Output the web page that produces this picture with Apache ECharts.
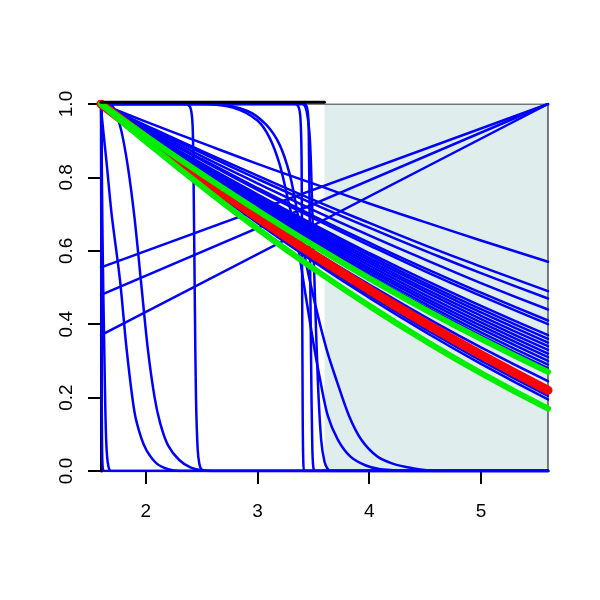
<!DOCTYPE html>
<html>
<head>
<meta charset="utf-8">
<script src="https://cdn.jsdelivr.net/npm/echarts@6/dist/echarts.min.js"></script>
<style>html,body{margin:0;padding:0;background:#fff}#c{width:600px;height:600px}</style>
</head>
<body>
<div id="c"></div>
<script>
// ---- data ----
const xTicks = [2, 3, 4, 5];
const shadeX = [3.6, 5.6];
const declineX = [1.6, 2.0, 2.5, 3.0, 3.5, 4.0, 4.5, 5.0, 5.6];
const b57 = [1, 0.952, 0.894, 0.837, 0.783, 0.729, 0.678, 0.628, 0.57];
const b49 = [1, 0.942, 0.872, 0.805, 0.739, 0.676, 0.615, 0.557, 0.49];
const b47 = [1, 0.940, 0.867, 0.796, 0.728, 0.663, 0.600, 0.539, 0.47];
const b44 = [1, 0.936, 0.858, 0.784, 0.711, 0.642, 0.576, 0.512, 0.44];
const b41 = [1, 0.932, 0.850, 0.771, 0.695, 0.622, 0.552, 0.486, 0.41];
const b40 = [1, 0.931, 0.847, 0.766, 0.689, 0.615, 0.544, 0.477, 0.40];
const b37 = [1, 0.927, 0.838, 0.754, 0.672, 0.594, 0.520, 0.450, 0.37];
const b36 = [1, 0.925, 0.835, 0.749, 0.667, 0.588, 0.512, 0.441, 0.36];
const b35 = [1, 0.924, 0.833, 0.745, 0.661, 0.581, 0.505, 0.432, 0.35];
const b34 = [1, 0.923, 0.830, 0.740, 0.655, 0.574, 0.496, 0.423, 0.34];
const b33 = [1, 0.921, 0.827, 0.736, 0.650, 0.567, 0.489, 0.414, 0.33];
const b32 = [1, 0.920, 0.824, 0.732, 0.644, 0.560, 0.480, 0.405, 0.32];
const b31 = [1, 0.919, 0.821, 0.727, 0.638, 0.553, 0.472, 0.396, 0.31];
const b30 = [1, 0.917, 0.818, 0.723, 0.632, 0.546, 0.464, 0.387, 0.30];
const b29 = [1, 0.916, 0.815, 0.718, 0.627, 0.539, 0.456, 0.378, 0.29];
const b28 = [1, 0.915, 0.812, 0.714, 0.621, 0.532, 0.448, 0.369, 0.28];
const b245 = [1, 0.910, 0.802, 0.698, 0.600, 0.508, 0.420, 0.337, 0.245];
const b205 = [1, 0.904, 0.789, 0.680, 0.577, 0.479, 0.387, 0.301, 0.205];
const b195 = [1, 0.903, 0.786, 0.676, 0.571, 0.472, 0.379, 0.292, 0.195];
const greenUpper = [1, 0.913, 0.809, 0.710, 0.615, 0.525, 0.440, 0.360, 0.27];
const redCurve = [1, 0.908, 0.797, 0.691, 0.590, 0.494, 0.403, 0.317, 0.22];
const greenLower = [1, 0.898, 0.776, 0.660, 0.552, 0.450, 0.355, 0.267, 0.17];

const riseA = [[1.6, 0.555], [5.6, 1]];
const riseB = [[1.6, 0.48], [5.6, 1]];
const riseC = [[1.6, 0.37], [5.6, 1]];

const dropS0 = [[1.6,1],[1.602,0.7],[1.605,0.3],[1.609,0.08],[1.615,0.01],[1.63,0],[5.6,0]];
const dropS1 = [[1.6,1],[1.605,0.9],[1.612,0.68],[1.62,0.5],[1.63,0.32],[1.64,0.15],[1.65,0.06],[1.665,0.015],[1.69,0],[5.6,0]];
const dropS2 = [[1.6,1],[1.606,0.97],[1.65,0.84],[1.695,0.70],[1.77,0.52],[1.83,0.33],[1.9,0.16],[1.96,0.09],[2.01,0.055],[2.1,0.02],[2.2,0.005],[2.3,0],[5.6,0]];
const dropS3 = [[1.6,1],[1.68,0.998],[1.72,0.985],[1.78,0.93],[1.84,0.83],[1.9,0.69],[1.96,0.51],[2.02,0.33],[2.08,0.2],[2.13,0.13],[2.2,0.07],[2.3,0.03],[2.4,0.01],[2.5,0.002],[2.6,0],[5.6,0]];
const dropV1 = [[1.6,1],[2.36,1],[2.4,0.99],[2.42,0.94],[2.43,0.75],[2.44,0.45],[2.45,0.2],[2.465,0.06],[2.48,0.02],[2.5,0.004],[2.55,0],[5.6,0]];
const dropP = [[1.6,1],[2.5,1],[2.78,0.99],[3.0,0.955],[3.11,0.907],[3.2,0.834],[3.27,0.744],[3.35,0.635],[3.42,0.5],[3.5,0.35],[3.56,0.25],[3.63,0.15],[3.72,0.085],[3.83,0.04],[3.97,0.015],[4.1,0.005],[4.4,0],[5.6,0]];
const dropQ = [[1.6,1],[2.6,1],[2.91,0.981],[3.08,0.943],[3.2,0.888],[3.29,0.807],[3.35,0.717],[3.42,0.589],[3.52,0.45],[3.62,0.33],[3.71,0.245],[3.82,0.15],[3.93,0.085],[4.07,0.04],[4.21,0.02],[4.38,0.008],[4.6,0],[5.6,0]];
const dropT1 = [[1.6,1],[3.34,1],[3.37,0.99],[3.385,0.96],[3.395,0.85],[3.40,0.5],[3.405,0.15],[3.41,0.03],[3.42,0],[5.6,0]];
const dropT2 = [[1.6,1],[3.42,1],[3.45,0.98],[3.46,0.9],[3.47,0.6],[3.48,0.3],[3.49,0.08],[3.5,0.01],[3.52,0],[5.6,0]];
const dropR = [[1.6,1],[3.40,1],[3.44,0.98],[3.47,0.9],[3.49,0.72],[3.51,0.52],[3.54,0.25],[3.57,0.085],[3.6,0.025],[3.63,0.005],[3.66,0],[5.6,0]];

const frameTopThick = [[1.6, 1.005], [3.6, 1.005]];
const frameTopThin = [[1.6, 1], [5.6, 1]];
const frameRight = [[5.6, 0], [5.6, 1]];

// ---- build ----
const BLUE = '#0000ff';
const zip = (xs, ys) => xs.map((x, i) => [x, ys[i]]);
function line(data, color, width, z, smooth, noClip) {
  return {
    type: 'line', data: data, symbol: 'none', showSymbol: false,
    smooth: smooth || false, clip: !noClip,
    lineStyle: { color: color, width: width, cap: 'round', join: 'round' }, itemStyle: { color: color },
    z: z, silent: true, animation: false
  };
}
const blueDeclines = [b57, b49, b47, b44, b41, b40, b37, b36, b35, b34, b33, b32, b31, b30, b29, b28, b245, b205, b195];
const blueDrops = [dropS0, dropS1, dropS2, dropS3, dropV1, dropP, dropQ, dropT1, dropT2, dropR];

const series = [];
series.push({
  type: 'line', data: [], z: 1, silent: true, animation: false,
  markArea: {
    silent: true,
    itemStyle: { color: '#e0eded', borderWidth: 0 },
    data: [[{ xAxis: shadeX[0], yAxis: 0 }, { xAxis: shadeX[1], yAxis: 1 }]]
  }
});
series.push(line(frameTopThin, '#000', 1, 2, false));
series.push(line(frameRight, '#000', 1, 2, false));
blueDrops.forEach(d => series.push(line(d, BLUE, 2.5, 3, 0.3)));
[riseA, riseB, riseC].forEach(d => series.push(line(d, BLUE, 2.5, 3, false)));
blueDeclines.forEach(d => series.push(line(zip(declineX, d), BLUE, 2.5, 3, 0.5)));
series.push(line(zip(declineX, redCurve), '#ff0000', 9, 4, 0.5));
series.push(line(zip(declineX, greenUpper), '#00ee00', 6, 5, 0.5));
series.push(line(zip(declineX, greenLower), '#00ee00', 6, 5, 0.5));
series.push(line(frameTopThick, '#000', 3, 6, false, true));

const font = 'Liberation Sans, Arial, Helvetica, sans-serif';
const chart = echarts.init(document.getElementById('c'), null, { renderer: 'canvas' });
chart.setOption({
  animation: false,
  backgroundColor: '#ffffff',
  grid: { left: 101, right: 52, top: 104, bottom: 129, containLabel: false },
  xAxis: {
    type: 'value', min: 1.6, max: 5.6,
    splitLine: { show: false },
    axisLine: { show: true, onZero: false, lineStyle: { color: '#000', width: 1 } },
    axisTick: { show: true, customValues: xTicks, length: 13, lineStyle: { color: '#000', width: 2 } },
    axisLabel: { customValues: xTicks, color: '#000', fontSize: 19, fontFamily: font, margin: 31 }
  },
  yAxis: {
    type: 'value', min: 0, max: 1, interval: 0.2,
    splitLine: { show: false },
    axisLine: { show: true, onZero: false, lineStyle: { color: '#000', width: 3 } },
    axisTick: { show: true, length: 13, lineStyle: { color: '#000', width: 2 } },
    axisLabel: { rotate: 90, color: '#000', fontSize: 19, fontFamily: font, margin: 25,
      formatter: v => v.toFixed(1) }
  },
  series: series
});
</script>
</body>
</html>
